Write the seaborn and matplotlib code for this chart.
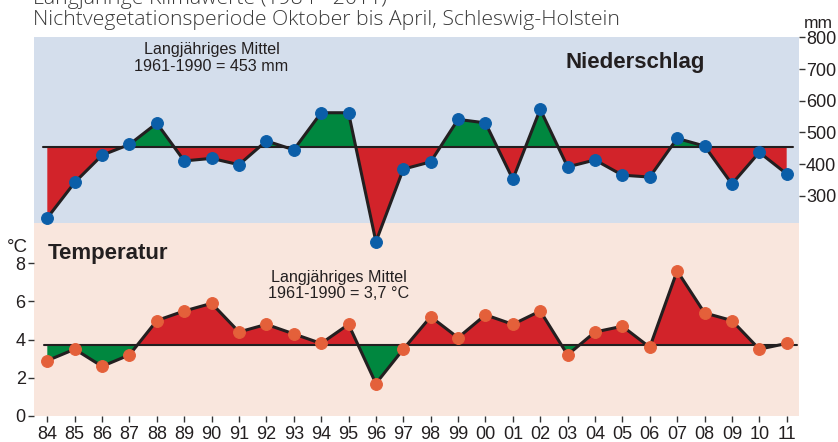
import numpy as np
import pandas as pd
import seaborn as sns
import matplotlib.pyplot as plt

# Jahre (Nichtvegetationsperiode Oktober bis April)
jahre = ['84', '85', '86', '87', '88', '89', '90', '91', '92', '93', '94', '95', '96', '97',
         '98', '99', '00', '01', '02', '03', '04', '05', '06', '07', '08', '09', '10', '11']
niederschlag = [230, 342, 428, 462, 529, 410, 418, 398, 473, 445, 562, 562, 155, 384,
                407, 541, 530, 352, 573, 391, 413, 365, 359, 481, 457, 337, 437, 369]
temperatur = [2.9, 3.5, 2.6, 3.2, 5.0, 5.5, 5.9, 4.4, 4.8, 4.3, 3.8, 4.8, 1.7, 3.5,
              5.2, 4.1, 5.3, 4.8, 5.5, 3.2, 4.4, 4.7, 3.6, 7.6, 5.4, 5.0, 3.5, 3.8]
mittel_mm = 453
mittel_t = 3.7

df = pd.DataFrame({'jahr': jahre, 'mm': niederschlag, 't': temperatur})
df['i'] = np.arange(len(df))

ROT = '#d2232a'
GRUEN = '#00873f'
SCHWARZ = '#231f20'
BLAU = '#0b5ea8'
ORANGE = '#e4603a'

sns.set_theme(style='white')
plt.rcParams['font.family'] = ['Liberation Sans', 'DejaVu Sans']

fig = plt.figure(figsize=(8.38, 4.42), dpi=100)
ax = fig.add_axes([34 / 838, 26 / 442, 765 / 838, 379 / 442])
ax.set_xlim(-0.486, 27.45)
ax.set_ylim(0, 19.85)
ax.set_facecolor('none')
ax.axhspan(10.11, 19.85, color='#d4deec', zorder=0, lw=0)
ax.axhspan(0, 10.11, color='#f9e6dd', zorder=0, lw=0)

x = df['i'].values

# Temperatur
t = df['t'].values
ax.fill_between(x, t, mittel_t, where=t >= mittel_t, interpolate=True, color=ROT, lw=0, zorder=1)
ax.fill_between(x, t, mittel_t, where=t <= mittel_t, interpolate=True, color=GRUEN, lw=0, zorder=1)
ax.plot([-0.11, 27.37], [mittel_t, mittel_t], color=SCHWARZ, lw=1.5, zorder=2)
sns.lineplot(data=df, x='i', y='t', ax=ax, color=SCHWARZ, lw=2.2, zorder=3,
             marker='o', markersize=8.5, markerfacecolor=ORANGE, markeredgecolor=ORANGE)

# Niederschlag
ax2 = ax.twinx()
ax2.set_ylim(-395, 801)
m = df['mm'].values
ax2.fill_between(x, m, mittel_mm, where=m >= mittel_mm, interpolate=True, color=GRUEN, lw=0, zorder=1)
ax2.fill_between(x, m, mittel_mm, where=m <= mittel_mm, interpolate=True, color=ROT, lw=0, zorder=1)
ax2.plot([-0.17, 27.22], [mittel_mm, mittel_mm], color=SCHWARZ, lw=1.5, zorder=2)
sns.lineplot(data=df, x='i', y='mm', ax=ax2, color=SCHWARZ, lw=2.2, zorder=3,
             marker='o', markersize=8.5, markerfacecolor=BLAU, markeredgecolor=BLAU)

for a in (ax, ax2):
    for s in a.spines.values():
        s.set_visible(False)
    a.set_xlabel('')
    a.set_ylabel('')

ax.set_xticks(x)
ax.set_xticklabels(jahre)
ax.set_yticks([0, 2, 4, 6, 8])
ax.tick_params(axis='x', direction='out', length=4, width=1, color='#333333', pad=3,
               labelsize=13, labelcolor=SCHWARZ, bottom=True)
ax.tick_params(axis='y', direction='out', length=4, width=1, color='#333333', pad=2,
               labelsize=13, labelcolor=SCHWARZ, left=True)
ax2.set_yticks([300, 400, 500, 600, 700, 800])
ax2.tick_params(axis='y', direction='out', length=4, width=1, color='#333333', pad=1,
                labelsize=13, labelcolor=SCHWARZ, right=True)

# Beschriftungen
ax2.text(6.0, 735, 'Langjähriges Mittel\n1961-1990 = 453 mm', ha='center', va='center',
         fontsize=11.6, color=SCHWARZ, linespacing=1.1)
ax2.text(21.45, 719, 'Niederschlag', ha='center', va='center', fontsize=16,
         fontweight='bold', color=SCHWARZ)
ax.text(0.03, 8.5, 'Temperatur', ha='left', va='center', fontsize=16,
        fontweight='bold', color=SCHWARZ)
ax.text(10.65, 6.85, 'Langjähriges Mittel\n1961-1990 = 3,7 °C', ha='center', va='center',
        fontsize=11.6, color=SCHWARZ, linespacing=1.1)

fig.text(818 / 838, 1 - 23 / 442, 'mm', ha='center', va='center', fontsize=12.5, color=SCHWARZ)
fig.text(17 / 838, 1 - 247 / 442, '°C', ha='center', va='center', fontsize=13.5, color=SCHWARZ)

fig.text(33 / 838, 1 - 4 / 442, 'Langjährige Klimawerte (1984 - 2011)', ha='left', va='baseline',
         fontsize=15.3, family=['Open Sans', 'DejaVu Sans'], fontweight='light', color='#3a3a3a')
fig.text(33 / 838, 1 - 25 / 442, 'Nichtvegetationsperiode Oktober bis April, Schleswig-Holstein',
         ha='left', va='baseline', fontsize=15.3, family=['Open Sans', 'DejaVu Sans'],
         fontweight='light', color='#3a3a3a')

fig.savefig('out.png', dpi=100)
